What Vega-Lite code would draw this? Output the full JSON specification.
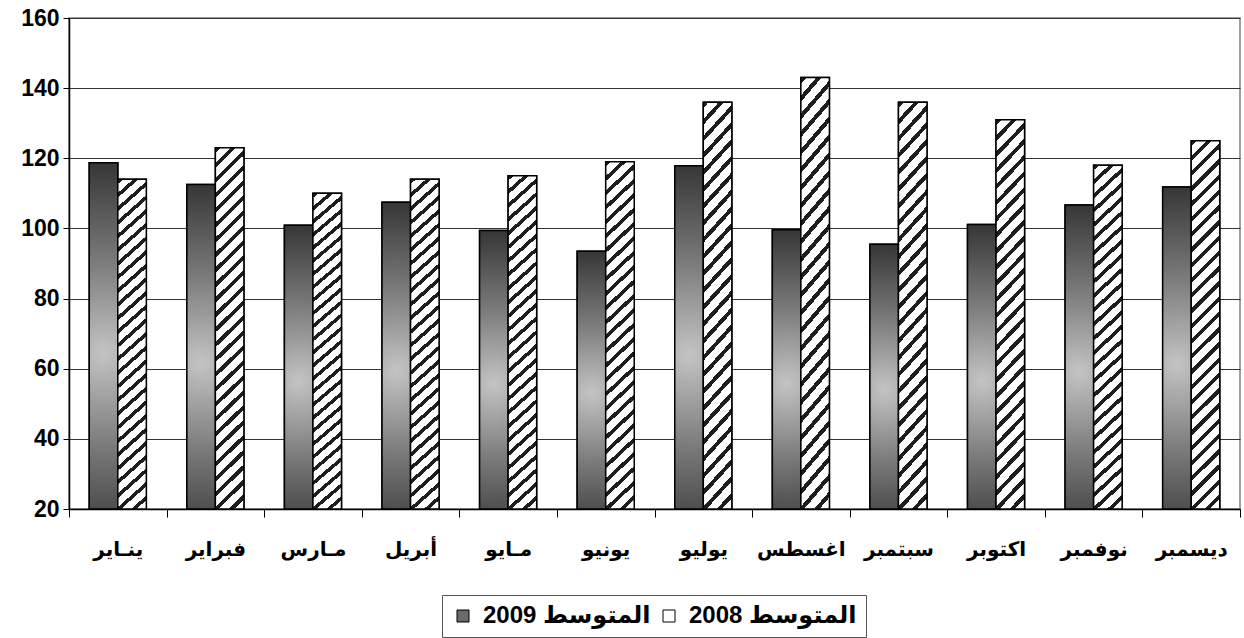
{
  "$schema": "https://vega.github.io/schema/vega-lite/v6.json",
  "width": 1171,
  "height": 491,
  "autosize": {"type": "none"},
  "padding": {"left": 69, "top": 18, "right": 4, "bottom": 129},
  "background": "white",
  "config": {
    "view": {"stroke": "#808080", "strokeWidth": 1.5},
    "font": "Liberation Sans, DejaVu Sans"
  },
  "data": {
    "values": [
      {"month": "ينـاير", "series": "المتوسط 2009", "value": 118.7},
      {"month": "ينـاير", "series": "المتوسط 2008", "value": 114},
      {"month": "فبراير", "series": "المتوسط 2009", "value": 112.5},
      {"month": "فبراير", "series": "المتوسط 2008", "value": 123},
      {"month": "مـارس", "series": "المتوسط 2009", "value": 100.9},
      {"month": "مـارس", "series": "المتوسط 2008", "value": 110},
      {"month": "أبريل", "series": "المتوسط 2009", "value": 107.5},
      {"month": "أبريل", "series": "المتوسط 2008", "value": 114},
      {"month": "مـايو", "series": "المتوسط 2009", "value": 99.4},
      {"month": "مـايو", "series": "المتوسط 2008", "value": 115},
      {"month": "يونيو", "series": "المتوسط 2009", "value": 93.5},
      {"month": "يونيو", "series": "المتوسط 2008", "value": 119},
      {"month": "يوليو", "series": "المتوسط 2009", "value": 117.9},
      {"month": "يوليو", "series": "المتوسط 2008", "value": 136},
      {"month": "اغسطس", "series": "المتوسط 2009", "value": 99.6},
      {"month": "اغسطس", "series": "المتوسط 2008", "value": 143},
      {"month": "سبتمبر", "series": "المتوسط 2009", "value": 95.5},
      {"month": "سبتمبر", "series": "المتوسط 2008", "value": 136},
      {"month": "اكتوبر", "series": "المتوسط 2009", "value": 101.1},
      {"month": "اكتوبر", "series": "المتوسط 2008", "value": 131},
      {"month": "نوفمبر", "series": "المتوسط 2009", "value": 106.7},
      {"month": "نوفمبر", "series": "المتوسط 2008", "value": 118},
      {"month": "ديسمبر", "series": "المتوسط 2009", "value": 111.8},
      {"month": "ديسمبر", "series": "المتوسط 2008", "value": 125}
    ]
  },
  "encoding": {
    "x": {
      "field": "month",
      "type": "nominal",
      "sort": null,
      "scale": {"paddingInner": 0, "paddingOuter": 0},
      "axis": {
        "title": null,
        "labelAngle": 0,
        "labelFontSize": 20,
        "labelFontWeight": "bold",
        "labelColor": "black",
        "labelFont": "Liberation Sans, DejaVu Sans",
        "tickBand": "extent",
        "tickSize": 8,
        "tickColor": "black",
        "tickWidth": 1,
        "domainColor": "black",
        "domainWidth": 1.5,
        "labelPadding": 22,
        "grid": false
      }
    },
    "xOffset": {
      "field": "series",
      "type": "nominal",
      "scale": {"domain": ["المتوسط 2009", "المتوسط 2008"], "paddingInner": 0, "paddingOuter": 0.71}
    },
    "y": {
      "field": "value",
      "type": "quantitative",
      "scale": {"domain": [20, 160], "nice": false, "zero": false},
      "axis": {
        "title": null,
        "values": [20, 40, 60, 80, 100, 120, 140, 160],
        "labelFontSize": 23,
        "labelFontWeight": "bold",
        "labelColor": "black",
        "labelFont": "Liberation Sans",
        "tickColor": "black",
        "tickSize": 6,
        "labelPadding": 4,
        "domainColor": "black",
        "domainWidth": 1.5,
        "grid": true,
        "gridColor": "#333333",
        "gridWidth": 1,
        "gridOpacity": 1
      }
    },
    "y2": {"datum": 20}
  },
  "layer": [
    {
      "mark": {"type": "bar", "stroke": "black", "strokeWidth": 1.5},
      "encoding": {
        "fill": {
          "field": "series",
          "type": "nominal",
          "scale": {"domain": ["المتوسط 2009", "المتوسط 2008"], "range": ["#6a6a6a", "#ffffff"]},
          "legend": {
            "title": null,
            "orient": "none",
            "legendX": 373,
            "legendY": 577,
            "direction": "horizontal",
            "symbolType": "square",
            "symbolSize": 144,
            "symbolStrokeColor": "black",
            "symbolStrokeWidth": 1,
            "labelFontSize": 24,
            "labelFontWeight": "bold",
            "labelColor": "black",
            "labelFont": "Liberation Sans, DejaVu Sans",
            "labelOffset": 8,
            "labelLimit": 400,
            "columnPadding": 6,
            "padding": 9,
            "strokeColor": "#555555",
            "encode": {
              "symbols": {
                "update": {
                  "stroke": {"value": "black"},
                  "strokeWidth": {"value": 1}
                }
              }
            }
          }
        }
      }
    },
    {
      "mark": {"type": "bar", "stroke": "black", "strokeWidth": 1.5},
      "encoding": {
        "fill": {
          "condition": {
            "test": "datum.series === 'المتوسط 2008'",
            "value": {
              "gradient": "linear", "x1": 0, "y1": 0, "x2": 0.0824, "y2": 1.0707,
              "stops": [
                {"offset": 0, "color": "#1e1e1e"}, {"offset": 0.0135, "color": "#1e1e1e"}, {"offset": 0.0135, "color": "#ffffff"}, {"offset": 0.03846, "color": "#ffffff"},
                {"offset": 0.03846, "color": "#1e1e1e"}, {"offset": 0.05196, "color": "#1e1e1e"}, {"offset": 0.05196, "color": "#ffffff"}, {"offset": 0.07692, "color": "#ffffff"},
                {"offset": 0.07692, "color": "#1e1e1e"}, {"offset": 0.09042, "color": "#1e1e1e"}, {"offset": 0.09042, "color": "#ffffff"}, {"offset": 0.11538, "color": "#ffffff"},
                {"offset": 0.11538, "color": "#1e1e1e"}, {"offset": 0.12888, "color": "#1e1e1e"}, {"offset": 0.12888, "color": "#ffffff"}, {"offset": 0.15385, "color": "#ffffff"},
                {"offset": 0.15385, "color": "#1e1e1e"}, {"offset": 0.16735, "color": "#1e1e1e"}, {"offset": 0.16735, "color": "#ffffff"}, {"offset": 0.19231, "color": "#ffffff"},
                {"offset": 0.19231, "color": "#1e1e1e"}, {"offset": 0.20581, "color": "#1e1e1e"}, {"offset": 0.20581, "color": "#ffffff"}, {"offset": 0.23077, "color": "#ffffff"},
                {"offset": 0.23077, "color": "#1e1e1e"}, {"offset": 0.24427, "color": "#1e1e1e"}, {"offset": 0.24427, "color": "#ffffff"}, {"offset": 0.26923, "color": "#ffffff"},
                {"offset": 0.26923, "color": "#1e1e1e"}, {"offset": 0.28273, "color": "#1e1e1e"}, {"offset": 0.28273, "color": "#ffffff"}, {"offset": 0.30769, "color": "#ffffff"},
                {"offset": 0.30769, "color": "#1e1e1e"}, {"offset": 0.32119, "color": "#1e1e1e"}, {"offset": 0.32119, "color": "#ffffff"}, {"offset": 0.34615, "color": "#ffffff"},
                {"offset": 0.34615, "color": "#1e1e1e"}, {"offset": 0.35965, "color": "#1e1e1e"}, {"offset": 0.35965, "color": "#ffffff"}, {"offset": 0.38462, "color": "#ffffff"},
                {"offset": 0.38462, "color": "#1e1e1e"}, {"offset": 0.39812, "color": "#1e1e1e"}, {"offset": 0.39812, "color": "#ffffff"}, {"offset": 0.42308, "color": "#ffffff"},
                {"offset": 0.42308, "color": "#1e1e1e"}, {"offset": 0.43658, "color": "#1e1e1e"}, {"offset": 0.43658, "color": "#ffffff"}, {"offset": 0.46154, "color": "#ffffff"},
                {"offset": 0.46154, "color": "#1e1e1e"}, {"offset": 0.47504, "color": "#1e1e1e"}, {"offset": 0.47504, "color": "#ffffff"}, {"offset": 0.5, "color": "#ffffff"},
                {"offset": 0.5, "color": "#1e1e1e"}, {"offset": 0.5135, "color": "#1e1e1e"}, {"offset": 0.5135, "color": "#ffffff"}, {"offset": 0.53846, "color": "#ffffff"},
                {"offset": 0.53846, "color": "#1e1e1e"}, {"offset": 0.55196, "color": "#1e1e1e"}, {"offset": 0.55196, "color": "#ffffff"}, {"offset": 0.57692, "color": "#ffffff"},
                {"offset": 0.57692, "color": "#1e1e1e"}, {"offset": 0.59042, "color": "#1e1e1e"}, {"offset": 0.59042, "color": "#ffffff"}, {"offset": 0.61538, "color": "#ffffff"},
                {"offset": 0.61538, "color": "#1e1e1e"}, {"offset": 0.62888, "color": "#1e1e1e"}, {"offset": 0.62888, "color": "#ffffff"}, {"offset": 0.65385, "color": "#ffffff"},
                {"offset": 0.65385, "color": "#1e1e1e"}, {"offset": 0.66735, "color": "#1e1e1e"}, {"offset": 0.66735, "color": "#ffffff"}, {"offset": 0.69231, "color": "#ffffff"},
                {"offset": 0.69231, "color": "#1e1e1e"}, {"offset": 0.70581, "color": "#1e1e1e"}, {"offset": 0.70581, "color": "#ffffff"}, {"offset": 0.73077, "color": "#ffffff"},
                {"offset": 0.73077, "color": "#1e1e1e"}, {"offset": 0.74427, "color": "#1e1e1e"}, {"offset": 0.74427, "color": "#ffffff"}, {"offset": 0.76923, "color": "#ffffff"},
                {"offset": 0.76923, "color": "#1e1e1e"}, {"offset": 0.78273, "color": "#1e1e1e"}, {"offset": 0.78273, "color": "#ffffff"}, {"offset": 0.80769, "color": "#ffffff"},
                {"offset": 0.80769, "color": "#1e1e1e"}, {"offset": 0.82119, "color": "#1e1e1e"}, {"offset": 0.82119, "color": "#ffffff"}, {"offset": 0.84615, "color": "#ffffff"},
                {"offset": 0.84615, "color": "#1e1e1e"}, {"offset": 0.85965, "color": "#1e1e1e"}, {"offset": 0.85965, "color": "#ffffff"}, {"offset": 0.88462, "color": "#ffffff"},
                {"offset": 0.88462, "color": "#1e1e1e"}, {"offset": 0.89812, "color": "#1e1e1e"}, {"offset": 0.89812, "color": "#ffffff"}, {"offset": 0.92308, "color": "#ffffff"},
                {"offset": 0.92308, "color": "#1e1e1e"}, {"offset": 0.93658, "color": "#1e1e1e"}, {"offset": 0.93658, "color": "#ffffff"}, {"offset": 0.96154, "color": "#ffffff"},
                {"offset": 0.96154, "color": "#1e1e1e"}, {"offset": 0.97504, "color": "#1e1e1e"}, {"offset": 0.97504, "color": "#ffffff"}, {"offset": 1, "color": "#ffffff"}
              ]
            }
          },
          "value": {
            "gradient": "radial", "x1": 0.5, "y1": 0.55, "r1": 0, "x2": 0.5, "y2": 0.55, "r2": 0.6,
            "stops": [
              {"offset": 0, "color": "#c4c4c4"},
              {"offset": 0.45, "color": "#7a7a7a"},
              {"offset": 1, "color": "#2a2a2a"}
            ]
          }
        }
      }
    }
  ]
}
